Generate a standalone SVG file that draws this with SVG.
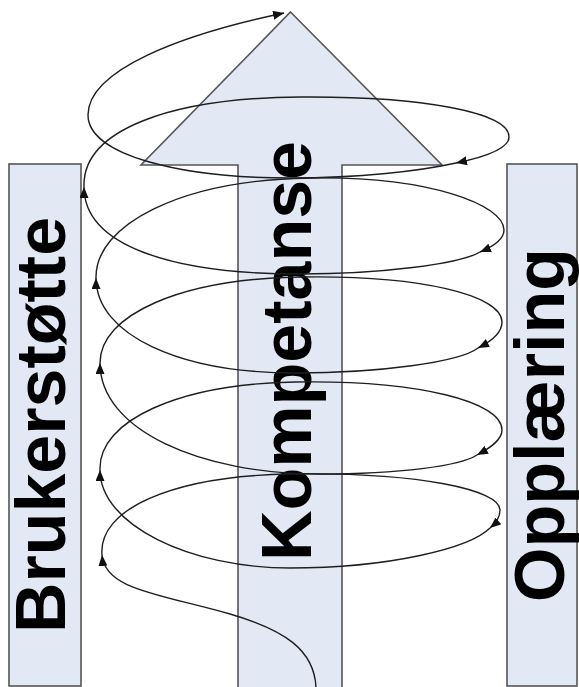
<svg xmlns="http://www.w3.org/2000/svg" width="579" height="687" viewBox="0 0 579 687">
  <style>
    .box { fill: #E2E9F5; stroke: #555555; stroke-width: 1.6; }
    .label { font-family: "Liberation Sans", Arial, sans-serif; font-weight: bold; font-size: 70px; fill: #000000; text-anchor: middle; }
    .loop { fill: none; stroke: #1E1E1E; stroke-width: 1.4; marker-end: url(#tip); }
  </style>
  <defs>
    <marker id="tip" markerUnits="userSpaceOnUse" markerWidth="12" markerHeight="9" refX="11" refY="4.5" orient="auto">
      <path d="M0,0 L11,4.5 L0,9 z" fill="#111111"/>
    </marker>
  </defs>
  <rect width="579" height="687" fill="#FFFFFF"/>

  <g id="brukerstotte">
    <rect class="box" x="9" y="164" width="72" height="522"/>
    <text class="label" transform="translate(65,425) rotate(-90)">Brukerstøtte</text>
  </g>

  <g id="kompetanse">
    <polygon class="box" stroke="#333333" points="290.5,12 442,165 342,165 342,690 238,690 238,165 141,165"/>
    <text class="label" transform="translate(311,351) rotate(-90)">Kompetanse</text>
  </g>

  <g id="opplaering">
    <rect class="box" x="507" y="164" width="70" height="522"/>
    <text class="label" transform="translate(564,425) rotate(-90)">Opplæring</text>
  </g>

  <g id="connectors">
    <path class="loop" d="M316,687 C314,650 285,630 230,614 C160,594 105,590 102,555"/>
    <path class="loop" d="M102,555 C98,510 170,476 290,474 C420,472 500,490 500,510 C500,518 496,523 490,528"/>
    <path class="loop" d="M490,528 C470,548 390,568 290,568 C190,568 100,525 100,470"/>
    <path class="loop" d="M100,470 C98,420 180,384 295,382 C420,380 502,402 502,430 C502,440 490,448 477,455"/>
    <path class="loop" d="M477,455 C460,466 400,474 320,474 C200,474 100,430 100,363"/>
    <path class="loop" d="M100,363 C100,315 180,279 300,277 C420,275 502,295 502,322 C502,333 490,342 478,348"/>
    <path class="loop" d="M478,348 C460,362 380,373 295,373 C180,373 96,335 96,278"/>
    <path class="loop" d="M96,278 C95,225 180,180 310,178 C430,176 504,205 504,230 C504,240 492,247 480,252"/>
    <path class="loop" d="M480,252 C460,264 380,274 300,274 C170,274 84,245 84,187"/>
    <path class="loop" d="M84,187 C82,130 170,98 300,97 C420,96 509,112 509,137 C509,150 480,158 456,163"/>
    <path class="loop" d="M456,163 C420,171 360,178 290,178 C180,178 88,155 88,115 C88,70 180,35 284,13"/>
  </g>
</svg>
